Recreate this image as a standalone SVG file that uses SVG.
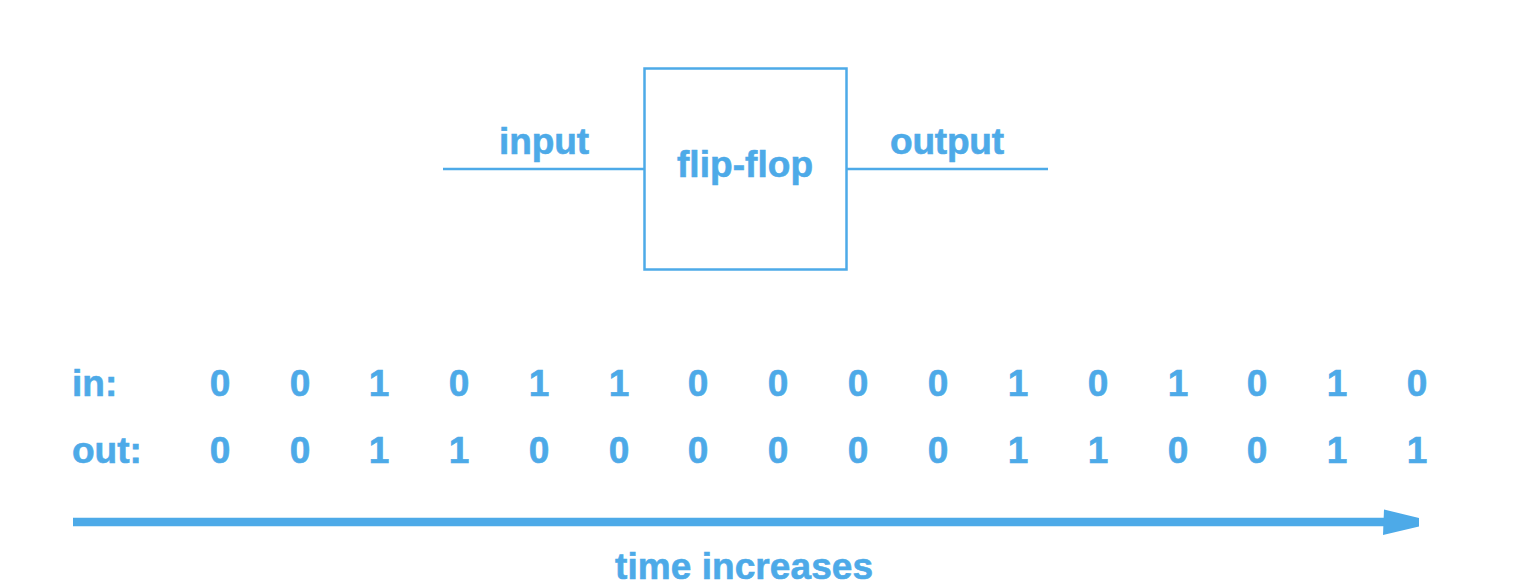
<svg xmlns="http://www.w3.org/2000/svg" width="1538" height="586" viewBox="0 0 1538 586">
<style>
  text { font-family: "Liberation Sans", Arial, sans-serif; font-weight: bold; fill: #4daae8; stroke: #4daae8; stroke-width: 0.6; font-size: 37px; }
  .c { text-anchor: middle; }
  .ln { stroke: #4daae8; stroke-width: 2.5; fill: none; }
</style>
<rect width="1538" height="586" fill="#ffffff"/>
<g id="connectors">
  <line class="ln" x1="443" y1="169" x2="644" y2="169"/>
  <line class="ln" x1="847" y1="169" x2="1048" y2="169"/>
  <line x1="73" y1="522" x2="1390" y2="522" stroke="#4daae8" stroke-width="8.5"/>
  <polygon points="1384,509.5 1419,518 1419,526.5 1383,535" fill="#4daae8"/>
</g>
<g id="flipflop">
  <rect class="ln" x="644.5" y="68.5" width="202" height="201"/>
  <text class="c" x="745" y="177" textLength="136" lengthAdjust="spacing">flip-flop</text>
</g>
<g id="labels">
  <text class="c" x="544" y="154" textLength="90" lengthAdjust="spacing">input</text>
  <text class="c" x="947" y="154" textLength="114" lengthAdjust="spacing">output</text>
  <text class="c" x="744" y="579" textLength="258" lengthAdjust="spacing">time increases</text>
</g>
<g id="in-row">
  <text x="72" y="396">in:</text>
  <text class="c" x="220" y="396">0</text>
  <text class="c" x="300" y="396">0</text>
  <text class="c" x="379" y="396">1</text>
  <text class="c" x="459" y="396">0</text>
  <text class="c" x="539" y="396">1</text>
  <text class="c" x="619" y="396">1</text>
  <text class="c" x="698" y="396">0</text>
  <text class="c" x="778" y="396">0</text>
  <text class="c" x="858" y="396">0</text>
  <text class="c" x="938" y="396">0</text>
  <text class="c" x="1018" y="396">1</text>
  <text class="c" x="1098" y="396">0</text>
  <text class="c" x="1178" y="396">1</text>
  <text class="c" x="1257" y="396">0</text>
  <text class="c" x="1337" y="396">1</text>
  <text class="c" x="1417" y="396">0</text>
</g>
<g id="out-row">
  <text x="72" y="463">out:</text>
  <text class="c" x="220" y="463">0</text>
  <text class="c" x="300" y="463">0</text>
  <text class="c" x="379" y="463">1</text>
  <text class="c" x="459" y="463">1</text>
  <text class="c" x="539" y="463">0</text>
  <text class="c" x="619" y="463">0</text>
  <text class="c" x="698" y="463">0</text>
  <text class="c" x="778" y="463">0</text>
  <text class="c" x="858" y="463">0</text>
  <text class="c" x="938" y="463">0</text>
  <text class="c" x="1018" y="463">1</text>
  <text class="c" x="1098" y="463">1</text>
  <text class="c" x="1178" y="463">0</text>
  <text class="c" x="1257" y="463">0</text>
  <text class="c" x="1337" y="463">1</text>
  <text class="c" x="1417" y="463">1</text>
</g>
</svg>
